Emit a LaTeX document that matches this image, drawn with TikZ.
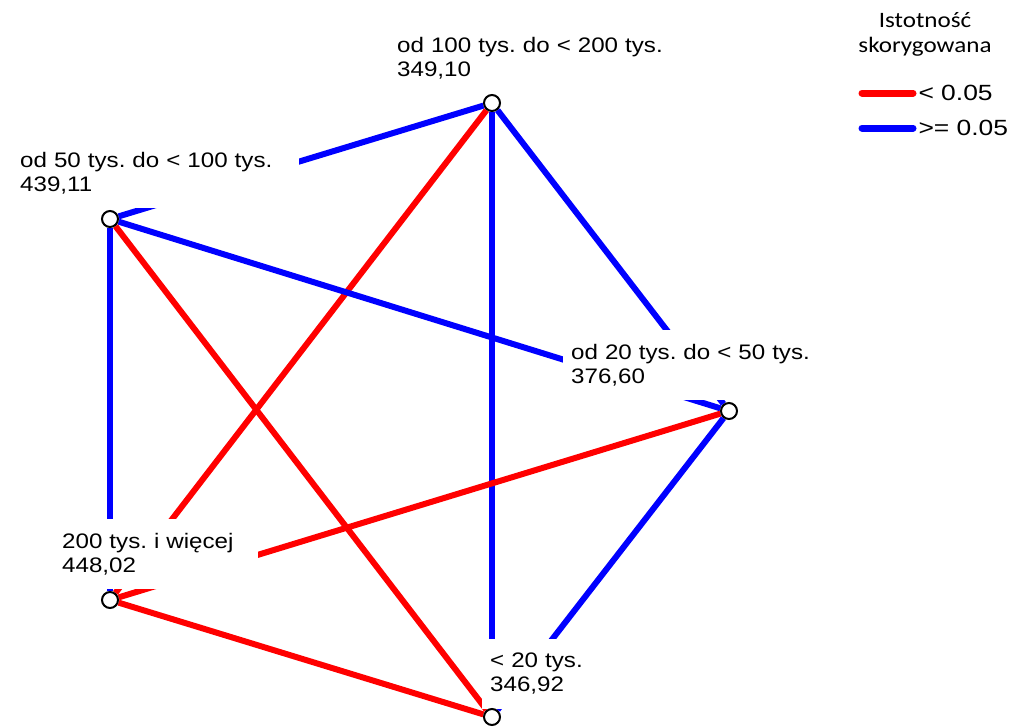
\documentclass[tikz,border=0pt]{standalone}
\usepackage{fontspec}
\setmainfont{Liberation Sans}[FakeStretch=1.15]
\newfontfamily\legfont{Carlito}[FakeStretch=1.14]
\newfontfamily\legnum{Liberation Sans}[FakeStretch=1.2]
\usetikzlibrary{positioning}
\definecolor{sigred}{RGB}{255,0,0}
\definecolor{nsblue}{RGB}{0,0,255}
\pgfdeclarelayer{edges}
\pgfdeclarelayer{labels}
\pgfsetlayers{edges,labels,main}
\tikzset{
  grp/.style={circle,draw=black,line width=2pt,fill=white,minimum size=16pt,inner sep=0pt},
  lbl/.style={anchor=north west,fill=white,align=left,inner xsep=8pt,inner ysep=14pt,font=\fontsize{21}{24}\selectfont},
  sig/.style={draw=sigred,line width=6pt},
  nsig/.style={draw=nsblue,line width=6pt}
}
\frenchspacing

\begin{document}
\begin{tikzpicture}[x=1pt,y=-1pt]
  \useasboundingbox (0,0) rectangle (1011,726);

  % --- Group nodes ---
  \node[grp] (n100) at (492,103) {};
  \node[grp] (n50)  at (110,219) {};
  \node[grp] (n20)  at (729,411) {};
  \node[grp] (n200) at (110,600) {};
  \node[grp] (n0)   at (492,717) {};

  % --- Group labels (white boxes over the lines) ---
  \begin{pgfonlayer}{labels}
  \node[lbl,text width=290pt] (l100) at (389,23)  {od 100 tys. do < 200 tys.\\349,10};
  \node[lbl,text width=271pt] (l50)  at (12,138)  {od 50 tys. do < 100 tys.\\439,11};
  \node[lbl,text width=256pt] (l20)  at (563,330) {od 20 tys. do < 50 tys.\\376,60};
  \node[lbl,text width=188pt] (l200) at (54,519)  {200 tys. i więcej\\448,02};
  \node[lbl,text width=110pt] (l0)   at (482,639) {< 20 tys.\\346,92};
  \end{pgfonlayer}

  % --- Pairwise comparisons ---
  \begin{pgfonlayer}{edges}
  \draw[nsig] (n100) -- (n50);
  \draw[nsig] (n100) -- (n20);
  \draw[nsig] (n100) -- (n0);
  \draw[sig]  (n100) -- (n200);
  \draw[nsig] (n50) -- (n20);
  \draw[nsig] (n50) -- (n200);
  \draw[sig]  (n50) -- (n0);
  \draw[sig]  (n20) -- (n200);
  \draw[nsig] (n20) -- (n0);
  \draw[sig]  (n200) -- (n0);
  \end{pgfonlayer}

  % --- Legend ---
  \node[font=\legfont\fontsize{22}{25}\selectfont,align=center,anchor=north] (leghead) at (925,9) {Istotność\\skorygowana};
  \draw[sig,line cap=round,line width=7pt] (862,93) -- (913,93)
    node[right,inner sep=2pt,font=\legnum\fontsize{22}{25}\selectfont] (legsig) {< 0.05};
  \draw[nsig,line cap=round,line width=7pt] (862,128) -- (913,128)
    node[right,inner sep=2pt,font=\legnum\fontsize{22}{25}\selectfont] (legns) {>= 0.05};
\end{tikzpicture}
\end{document}
